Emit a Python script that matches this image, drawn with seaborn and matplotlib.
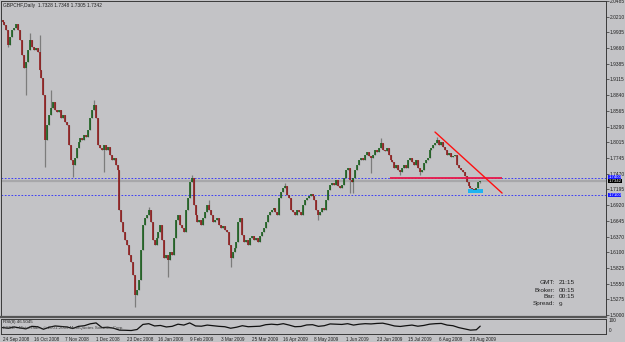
#!/usr/bin/env python3
import numpy as np
import pandas as pd
import matplotlib
matplotlib.use("Agg")
from matplotlib import pyplot as plt
from matplotlib import transforms as mtransforms
import seaborn as sns

W, H = 625, 342
BG = "#c3c3c6"

title = "GBPCHF,Daily  1.7328 1.7348 1.7305 1.7342"

# daily closes, 24 Sep 2008 .. early Sep 2009
first_open = 2.0150
closes = [
    2.0118, 2.0065, 1.9978, 1.9716, 1.9856, 1.9978, 2.0013, 2.0083, 1.9978, 1.9803,
    1.9541, 1.9314, 1.9419, 1.9629, 1.9803, 1.9681, 1.9629, 1.9663, 1.9594, 1.9279,
    1.9139, 1.8842, 1.8056, 1.8318, 1.8493, 1.8615, 1.8720, 1.8580, 1.8545, 1.8580,
    1.8441, 1.8493, 1.8371, 1.8318, 1.7969, 1.7707, 1.7619, 1.7742, 1.7916, 1.8021,
    1.8091, 1.8056, 1.8144, 1.8109, 1.8231, 1.8441, 1.8580, 1.8668, 1.8441, 1.7969,
    1.7916, 1.7882, 1.7969, 1.7882, 1.7934, 1.7794, 1.7707, 1.7742, 1.7619, 1.7532,
    1.6833, 1.6624, 1.6449, 1.6309, 1.6222, 1.6047, 1.5925, 1.5698, 1.5348, 1.5436,
    1.5610, 1.6135, 1.6571, 1.6694, 1.6746, 1.6833, 1.6624, 1.6309, 1.6222, 1.6344,
    1.6449, 1.6571, 1.6309, 1.5995, 1.6047, 1.5960, 1.6100, 1.6047, 1.6344, 1.6659,
    1.6746, 1.6571, 1.6519, 1.6449, 1.6833, 1.7043, 1.7323, 1.7392, 1.6921, 1.6746,
    1.6624, 1.6659, 1.6571, 1.6694, 1.6798, 1.6921, 1.6833, 1.6746, 1.6624, 1.6659,
    1.6694, 1.6571, 1.6519, 1.6554, 1.6484, 1.6449, 1.6222, 1.5995, 1.6100, 1.6169,
    1.6274, 1.6624, 1.6694, 1.6397, 1.6274, 1.6309, 1.6222, 1.6344, 1.6379, 1.6309,
    1.6344, 1.6274, 1.6379, 1.6449, 1.6519, 1.6624, 1.6746, 1.6798, 1.6833, 1.6868,
    1.6798, 1.6746, 1.7043, 1.7148, 1.7218, 1.7253, 1.7095, 1.7043, 1.6833, 1.6798,
    1.6746, 1.6833, 1.6798, 1.6746, 1.6921, 1.7008, 1.7043, 1.7078, 1.7113, 1.7078,
    1.7008, 1.6833, 1.6746, 1.6798, 1.6868, 1.6833, 1.7008, 1.7183, 1.7270, 1.7305,
    1.7270, 1.7357, 1.7253, 1.7218, 1.7270, 1.7392, 1.7532, 1.7567, 1.7357, 1.7323,
    1.7392, 1.7532, 1.7619, 1.7707, 1.7742, 1.7707, 1.7794, 1.7847, 1.7777, 1.7742,
    1.7794, 1.7882, 1.7847, 1.7916, 1.8004, 1.7882, 1.7870, 1.7916, 1.7794, 1.7707,
    1.7672, 1.7567, 1.7619, 1.7532, 1.7497, 1.7567, 1.7619, 1.7567, 1.7707, 1.7742,
    1.7672, 1.7619, 1.7707, 1.7567, 1.7497, 1.7532, 1.7654, 1.7707, 1.7742, 1.7882,
    1.7916, 1.7969, 1.8004, 1.8056, 1.7969, 1.8021, 1.7934, 1.7882, 1.7794, 1.7829,
    1.7759, 1.7777, 1.7794, 1.7619, 1.7567, 1.7532, 1.7497, 1.7427, 1.7323, 1.7253,
    1.7218, 1.7200, 1.7183, 1.7218, 1.7328, 1.7342,
]
# wicks that stick out of the bodies
wick_hi = {14: 1.9926, 19: 1.9891, 25: 1.8930, 47: 1.8755, 75: 1.6886, 97: 1.7445,
           106: 1.7008, 145: 1.7305, 194: 1.8091, 223: 1.8109, 245: 1.7348}
wick_lo = {3: 1.9681, 12: 1.8842, 22: 1.7584, 36: 1.7410, 52: 1.7497, 68: 1.5139,
           85: 1.5663, 117: 1.5838, 162: 1.6659, 178: 1.7131, 180: 1.7131, 189: 1.7480,
           204: 1.7445, 214: 1.7445, 245: 1.7305}

rsi_label = "RSI(8) 46.5045"
copyright_txt = "FXDD - MetaTrader, \u00a9 2001-2009 MetaQuotes Software Corp."
rsi_every = 3
rsi = [35, 30, 40, 32, 25, 45, 42, 22, 38, 48, 44, 40, 28, 45, 50, 65, 72, 35, 38, 30,
       15, 14, 12, 20, 60, 66, 48, 52, 40, 45, 62, 55, 72, 48, 46, 55, 50, 45, 42, 30,
       38, 50, 42, 44, 46, 58, 62, 58, 66, 55, 42, 44, 56, 58, 45, 50, 64, 62, 60, 66,
       55, 62, 66, 64, 68, 70, 60, 48, 44, 50, 55, 46, 52, 62, 66, 68, 55, 50, 35, 25,
       15, 18]
rsi_last = 46.5045

price_ticks = [2.0485, 2.0210, 1.9935, 1.9660, 1.9385, 1.9115, 1.8840, 1.8565, 1.8290,
               1.8015, 1.7745, 1.7470, 1.7195, 1.6920, 1.6645, 1.6370, 1.6100, 1.5825,
               1.5550, 1.5275, 1.5000]
date_labels = ["24 Sep 2008", "16 Oct 2008", "7 Nov 2008", "1 Dec 2008", "23 Dec 2008",
               "16 Jan 2009", "9 Feb 2009", "3 Mar 2009", "25 Mar 2009", "16 Apr 2009",
               "8 May 2009", "1 Jun 2009", "23 Jun 2009", "15 Jul 2009", "6 Aug 2009",
               "28 Aug 2009"]
date_every = 16

blue_levels = [1.7400, 1.7100]
bid = 1.7342
red_level = 1.7400
red_level_span = (198.7, 256.2)
trend_pts = [(221.8, 1.8196), (256.2, 1.7130)]
cyan_box = (238.7, 246.4, 1.7130, 1.7200)

info = [("GMT:", "21:15"), ("Broker:", "00:15"), ("Bar:", "00:15"), ("Spread:", "9")]


def fx(px):
    return px / W


def fy(py):
    return 1 - py / H


def main():
    sns.set_style("white", {"axes.facecolor": BG, "figure.facecolor": BG})
    plt.rcParams['font.family'] = ['Liberation Sans', 'DejaVu Sans']

    n = len(closes)
    df = pd.DataFrame({"bar": np.arange(n), "close": closes})
    df["open"] = [first_open] + closes[:-1]
    df["top"] = df[["open", "close"]].max(axis=1)
    df["bot"] = df[["open", "close"]].min(axis=1)
    df["high"] = [max(wick_hi.get(i, t), t) for i, t in zip(df["bar"], df["top"])]
    df["low"] = [min(wick_lo.get(i, b), b) for i, b in zip(df["bar"], df["bot"])]
    thin = (df["top"] - df["bot"]) < 0.0009
    df.loc[thin, "top"] += 0.00045
    df.loc[thin, "bot"] -= 0.00045
    df["up"] = df["close"] >= df["open"]

    fig = plt.figure(figsize=(W / 100, H / 100), dpi=100)
    ax = fig.add_axes([fx(1), fy(317), fx(606) - fx(1), fy(1) - fy(317)])
    ax2 = fig.add_axes([fx(1), fy(334), fx(606) - fx(1), fy(318.5) - fy(334)])
    for a in (ax, ax2):
        a.set_facecolor(BG)
        a.set_xlim(-0.77, 309.5)
        for s in a.spines.values():
            s.set_color("#3a3a3a")
            s.set_linewidth(0.7)
    ax.spines["bottom"].set_linewidth(1.6)
    ax.spines["bottom"].set_color("#555555")
    ax.set_ylim(1.4965, 2.0485)

    # helper lines
    for lv in blue_levels:
        ax.axhline(lv, color="#2626ff", lw=0.6, ls=(0, (2, 2)), zorder=1)
    ax.axhline(bid, color="#a7a7aa", lw=1.6, zorder=1)

    # candles
    ax.vlines(df["bar"], df["low"], df["high"], color="#7c7c7c", lw=0.9, zorder=2)
    for up, col in ((True, "#0e5a12"), (False, "#8e1010")):
        d = df[df["up"] == up]
        ax.vlines(d["bar"], d["bot"], d["top"], color=col, lw=1.1, zorder=3)

    # objects drawn on the chart
    ax.hlines(red_level, *red_level_span, color="#e8184a", lw=1.3, zorder=4)
    (x0, y0), (x1, y1) = trend_pts
    ax.plot([x0, x1], [y0, y1], color="#ff1010", lw=1.0, zorder=4)
    bx0, bx1, by0, by1 = cyan_box
    ax.fill_between([bx0, bx1], by0, by1, color="#1eb4f0", lw=0, zorder=2.5)

    # price scale on the right
    ax.yaxis.tick_right()
    ax.set_yticks(price_ticks)
    ax.set_yticklabels([f"{p:.4f}" for p in price_ticks])
    ax.tick_params(axis="y", length=2, width=0.5, color="#303030", labelsize=3.5,
                   pad=0.8, labelcolor="#202020")
    ax.set_xticks([])
    tr = mtransforms.blended_transform_factory(ax.transAxes, ax.transData)
    boxes = ((red_level + 0.0004, red_level, "#1a1aff"),
             (bid - 0.0004, bid, "#000000"),
             (blue_levels[1], blue_levels[1], "#1a1aff"))
    for ypos, lv, fc in boxes:
        ax.text(1.004, ypos, f"{lv:.4f}", transform=tr, fontsize=3.1, color="white",
                va="center", ha="left", clip_on=False,
                bbox=dict(boxstyle="square,pad=0.05", fc=fc, ec="none"))

    # RSI window
    rsi_df = pd.DataFrame({"bar": list(np.arange(len(rsi)) * rsi_every) + [n - 1],
                           "rsi": rsi + [rsi_last]})
    sns.lineplot(data=rsi_df, x="bar", y="rsi", ax=ax2, color="#111111", lw=0.9)
    ax2.set_ylim(-15.5, 106.9)
    ax2.set_yticks([])
    ax2.set_ylabel("")
    ax2.set_xlabel("")
    ticks = np.arange(len(date_labels)) * date_every
    ax2.set_xticks(ticks)
    ax2.set_xticklabels(date_labels)
    for lab in ax2.get_xticklabels():
        lab.set_ha("left")
    ax2.tick_params(axis="x", length=1.5, width=0.5, color="#303030", labelsize=3.3,
                    pad=0.6, labelcolor="#202020")
    ax2.set_xlim(-0.77, 309.5)

    fig.text(fx(609), fy(321), "100", fontsize=3.4, va="center", color="#202020")
    fig.text(fx(609), fy(330), "0", fontsize=3.4, va="center", color="#202020")
    fig.text(fx(3), fy(322.5), rsi_label, fontsize=3.2, va="center", color="#202020")
    fig.text(fx(3), fy(328.5), copyright_txt, fontsize=3.2, va="center", color="#404040")

    fig.text(fx(3), fy(5), title, fontsize=3.5, va="center", color="#202020")
    for k, (lab, val) in enumerate(info):
        yy = fy(283 + 7 * k)
        fig.text(fx(555), yy, lab, fontsize=4.6, ha="right", va="center", color="#202020")
        fig.text(fx(559), yy, val, fontsize=4.6, ha="left", va="center", color="#202020")

    fig.savefig("out.png", dpi=100, facecolor=BG)


if __name__ == '__main__':
    main()
